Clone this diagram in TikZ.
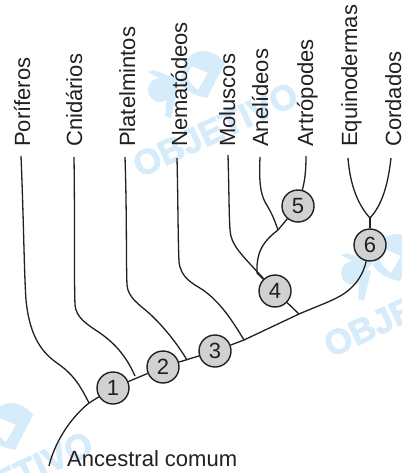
\documentclass[tikz,border=0pt]{standalone}
\usepackage{fontspec}
\usetikzlibrary{backgrounds}
\setmainfont{Liberation Sans}
\newfontfamily\wmfont[BoldFeatures={FakeBold=2.5}]{Liberation Sans}
\definecolor{wm}{RGB}{214,236,250}
\definecolor{nodegray}{RGB}{207,209,211}
\definecolor{ink}{RGB}{35,31,32}
\tikzset{
  x=1pt,y=-1pt,
  taxon/.style={rotate=90,anchor=base west,inner sep=0pt,font=\fontsize{22}{22}\selectfont,text=ink},
  rootlabel/.style={anchor=base west,inner sep=0pt,font=\fontsize{22}{22}\selectfont,text=ink},
  clade/.style={circle,draw=ink,fill=nodegray,line width=1.4pt,minimum size=32pt,inner sep=0pt,font=\fontsize{22}{22}\selectfont,text=ink},
  branch/.style={draw=ink,line width=1.3pt},
  wmtext/.style={rotate=25,anchor=base west,inner sep=0pt,text=wm,font=\fontsize{35}{35}\selectfont\wmfont\bfseries},
  pics/bee/.style={code={
    \fill[wm] (160,90) circle (12);
    \fill[wm] (148,72) -- (154,70) -- (180,80) -- (174,86) -- cycle;
    \fill[wm] (168,84) -- (178,88) -- (171,118) -- (165,116) -- cycle;
    \fill[wm,even odd rule] (186,60) .. controls (195,48) and (212,47) .. (225,63) -- (207,98) .. controls (196,96) and (186,92) .. (180,82) -- cycle
      (192,66) -- (208,73) -- (198,90) .. controls (192,86) and (188,80) .. (186,76) -- cycle;
  }}
}
\begin{document}
\begin{tikzpicture}
\useasboundingbox (0,0) rectangle (401,473);
% clades
\node[clade] (n1) at (113,388) {1};
\node[clade] (n2) at (163,367) {2};
\node[clade] (n3) at (215,351) {3};
\node[clade] (n4) at (275,291) {4};
\node[clade] (n5) at (298,206) {5};
\node[clade] (n6) at (370,245) {6};
% labels
\node[taxon] (t1) at (30,147) {Poríferos};
\node[taxon] (t2) at (82,147) {Cnidários};
\node[taxon] (t3) at (135,147) {Platelmintos};
\node[taxon] (t4) at (187,147) {Nematódeos};
\node[taxon] (t5) at (235,147) {Moluscos};
\node[taxon] (t6) at (268,147) {Anelídeos};
\node[taxon] (t7) at (313,147) {Artrópodes};
\node[taxon] (t8) at (357,147) {Equinodermas};
\node[taxon] (t9) at (401,147) {Cordados};
\node[rootlabel] (root) at (67,466) {Ancestral comum};
% free ends and junctions
\coordinate (e1) at (21,156);
\coordinate (e2) at (74,157);
\coordinate (e3) at (125,157);
\coordinate (e4) at (177,158);
\coordinate (e5) at (228,155);
\coordinate (e6) at (260,157);
\coordinate (e7) at (306,156);
\coordinate (e8) at (348,158);
\coordinate (e9) at (391,158);
\coordinate (base) at (49,466);
\coordinate (j1) at (89,403);
\coordinate (j2) at (135,376);
\coordinate (j3) at (187,360);
\coordinate (j4) at (244,340);
\coordinate (j5) at (299,314);
\coordinate (j6) at (278,230);
\coordinate (j7) at (370,218);
\begin{scope}[on background layer]
% watermark
\node[wmtext] (wa) at (140,178) {OBJETIVO};
\node[wmtext] (wb) at (331,358) {OBJETIVO};
\node[wmtext] (wc) at (-65,527) {OBJETIVO};
\pic at (0,0) {bee};
\pic at (193,183) {bee};
\pic at (-192,352) {bee};
% trunk
\draw[branch] (base) .. controls (54,445) and (68,420) .. (j1) -- (n1);
\draw[branch] (n1) -- (n2);
\draw[branch] (n2) -- (n3);
\draw[branch] (n3) -- (j4) -- (j5) .. controls (320,305) and (335,300) .. (345,293) .. controls (356,285) and (363,275) .. (n6);
% tips
\draw[branch] (e1) .. controls (24,230) and (24,270) .. (26,300) .. controls (29,330) and (38,350) .. (57,363) .. controls (73,374) and (80,385) .. (j1);
\draw[branch] (e2) .. controls (75,230) and (74,280) .. (75,305) .. controls (76,318) and (88,325) .. (100,333) .. controls (117,345) and (127,358) .. (j2);
\draw[branch] (e3) .. controls (127,220) and (126,260) .. (127,285) .. controls (128,298) and (140,305) .. (150,314) .. controls (165,328) and (178,345) .. (j3);
\draw[branch] (e4) .. controls (178,200) and (178,240) .. (179,262) .. controls (181,278) and (192,283) .. (203,290) .. controls (220,302) and (232,320) .. (j4);
\draw[branch] (e5) .. controls (229,190) and (229,215) .. (230,230) .. controls (231,245) and (240,253) .. (n4);
\draw[branch] (e6) .. controls (259,180) and (260,192) .. (265,202) .. controls (270,210) and (274,218) .. (j6);
\draw[branch] (e7) .. controls (306,170) and (305,180) .. (n5);
\draw[branch] (n5) -- (j6) .. controls (265,240) and (256,250) .. (257,273) -- (n4);
\draw[branch] (n4) -- (j5);
\draw[branch] (e8) .. controls (350,185) and (358,205) .. (j7);
\draw[branch] (e9) .. controls (388,185) and (382,205) .. (j7);
\draw[branch] (j7) -- (n6);
\end{scope}
\end{tikzpicture}
\end{document}
